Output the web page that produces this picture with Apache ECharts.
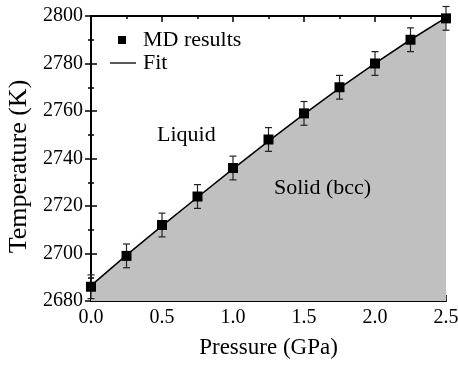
<!DOCTYPE html>
<html><head><meta charset="utf-8">
<script src="https://cdn.jsdelivr.net/npm/echarts@6/dist/echarts.min.js"></script>
<style>html,body{margin:0;padding:0;background:#fff}#c{width:458px;height:365px}</style>
</head><body><div id="c"></div>
<script>
const pressure = [0, 0.25, 0.5, 0.75, 1.0, 1.25, 1.5, 1.75, 2.0, 2.25, 2.5];
const mdTemp = [2686, 2699, 2712, 2724, 2736, 2748, 2759, 2770, 2780, 2790, 2799];
const mdErr = [5, 5, 5, 5, 5, 5, 5, 5, 5, 5, 5];
const fitTemp = [2686.5, 2699.3, 2711.6, 2723.7, 2735.6, 2747.3, 2758.7, 2769.6, 2780.1, 2790.0, 2799.3];
const xTicks = [0, 0.5, 1.0, 1.5, 2.0, 2.5];
const yTicks = [2680, 2700, 2720, 2740, 2760, 2780, 2800];

const FONT = 'Liberation Serif';
const chart = echarts.init(document.getElementById('c'), null, {renderer: 'canvas'});
const axLine = {show: true, lineStyle: {color: '#000', width: 2}};
const tickIn = {show: true, inside: true, length: 6, lineStyle: {color: '#000', width: 1.5}};
const minorIn = {show: true, splitNumber: 2, length: 3, lineStyle: {color: '#000', width: 1.5}};
const legendText = {fontFamily: FONT, fontSize: 22, color: '#000'};

chart.setOption({
  animation: false,
  grid: {left: 91, right: 12, top: 16, bottom: 64, outerBoundsMode: 'none', containLabel: false},
  legend: [{
    orient: 'vertical', left: 118, top: 29, padding: 0,
    itemWidth: 8, itemHeight: 8,
    textStyle: Object.assign({padding: [0, 0, 0, 12]}, legendText),
    data: [{name: 'MD results', icon: 'rect'}]
  }, {
    orient: 'vertical', left: 110, top: 52, padding: 0,
    itemWidth: 26, itemHeight: 20,
    textStyle: Object.assign({padding: [0, 0, 0, 2]}, legendText),
    data: [{name: 'Fit', icon: 'path://M0,9.4 h26 v1.3 h-26 z'}]
  }],
  xAxis: [{
    type: 'value', min: 0, max: 2.5, interval: 0.5,
    name: 'Pressure (GPa)', nameLocation: 'middle', nameGap: 35,
    nameTextStyle: {fontFamily: FONT, fontSize: 23, color: '#000'},
    axisLine: axLine, axisTick: tickIn,
    minorTick: Object.assign({}, minorIn),
    splitLine: {show: false},
    axisLabel: {fontFamily: FONT, fontSize: 20, color: '#000', margin: 7,
      formatter: v => xTicks.includes(v) ? v.toFixed(1) : ''}
  }, {
    type: 'value', position: 'top', min: 0, max: 2.5, interval: 0.5,
    axisLine: axLine, axisTick: tickIn,
    minorTick: Object.assign({}, minorIn), axisLabel: {show: false}, splitLine: {show: false}
  }],
  yAxis: [{
    type: 'value', min: 2680, max: 2800, interval: 20,
    name: 'Temperature (K)', nameLocation: 'middle', nameGap: 56,
    nameTextStyle: {fontFamily: FONT, fontSize: 26, color: '#000', padding: [0, 16, 0, 0]},
    axisLine: axLine, axisTick: tickIn,
    minorTick: Object.assign({}, minorIn), splitLine: {show: false},
    axisLabel: {fontFamily: FONT, fontSize: 20, color: '#000', margin: 8,
      formatter: v => yTicks.includes(v) ? String(v) : ''}
  }, {
    type: 'value', position: 'right', min: 2680, max: 2800, interval: 20,
    axisLine: axLine, axisTick: tickIn,
    minorTick: Object.assign({}, minorIn), axisLabel: {show: false}, splitLine: {show: false}
  }],
  series: [
    {
      name: 'Fit', type: 'line', showSymbol: false, symbol: 'none',
      data: pressure.map((p, i) => [p, fitTemp[i]]),
      lineStyle: {color: '#000', width: 1.5},
      itemStyle: {color: '#000'},
      areaStyle: {color: '#c0c0c0', opacity: 1, origin: 'start'},
      z: 1
    },
    {
      name: 'errors', type: 'custom', clip: false, z: 3,
      data: pressure.map((p, i) => [p, mdTemp[i] - mdErr[i], mdTemp[i] + mdErr[i]]),
      renderItem: (params, api) => {
        const lo = api.coord([api.value(0), api.value(1)]);
        const hi = api.coord([api.value(0), api.value(2)]);
        const w = 3.5;
        const st = {stroke: '#222', lineWidth: 1.2};
        return {type: 'group', children: [
          {type: 'line', shape: {x1: lo[0], y1: lo[1], x2: hi[0], y2: hi[1]}, style: st},
          {type: 'line', shape: {x1: lo[0]-w, y1: lo[1], x2: lo[0]+w, y2: lo[1]}, style: st},
          {type: 'line', shape: {x1: hi[0]-w, y1: hi[1], x2: hi[0]+w, y2: hi[1]}, style: st}
        ]};
      }
    },
    {
      name: 'MD results', type: 'scatter', symbol: 'rect', symbolSize: 10,
      clip: false, z: 4,
      data: pressure.map((p, i) => [p, mdTemp[i]]),
      itemStyle: {color: '#000', opacity: 1}
    }
  ],
  graphic: [
    {type: 'text', z: 100, left: 157, top: 124, style: {text: 'Liquid', fontFamily: FONT, fontSize: 22, fill: '#000'}},
    {type: 'text', z: 100, left: 274, top: 177, style: {text: 'Solid (bcc)', fontFamily: FONT, fontSize: 22, fill: '#000'}}
  ]
});
</script></body></html>
